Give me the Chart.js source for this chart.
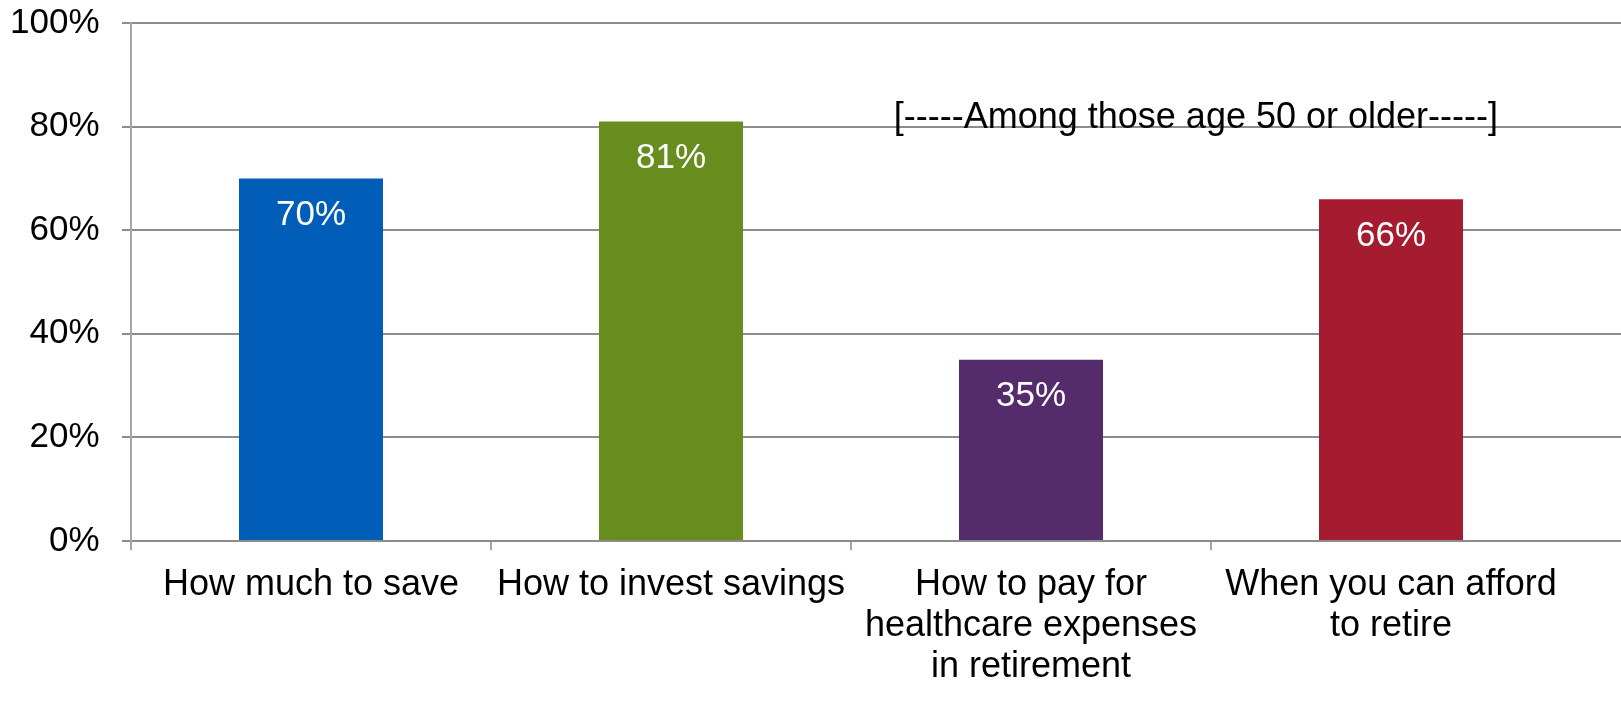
<!DOCTYPE html>
<html>
<head>
<meta charset="utf-8">
<script src="https://cdn.jsdelivr.net/npm/chart.js@4"></script>
<style>
  html, body { margin: 0; padding: 0; background: #fff; }
  #wrap { width: 1621px; height: 704px; }
</style>
</head>
<body>
<div id="wrap"><canvas id="barChartAdvice"></canvas></div>
<script>
var categories = [
    'How much to save',
    'How to invest savings',
    ['How to pay for', 'healthcare expenses', 'in retirement'],
    ['When you can afford', 'to retire']
];
var values = [70, 81, 35, 66];
var barColors = ['#005EB8', '#678D1F', '#542C6C', '#A51C30'];
var yTicks = [0, 20, 40, 60, 80, 100];
var noteText = '[-----Among those age 50 or older-----]';

var FONT = '"Liberation Sans", Arial, sans-serif';

// white value labels inside the top of each bar
var valueLabels = {
    id: 'valueLabels',
    afterDatasetsDraw: function (chart) {
        var ctx = chart.ctx;
        var meta = chart.getDatasetMeta(0);
        ctx.save();
        ctx.fillStyle = '#ffffff';
        ctx.font = '35px ' + FONT;
        ctx.textAlign = 'center';
        ctx.textBaseline = 'middle';
        meta.data.forEach(function (bar, i) {
            ctx.fillText(values[i] + '%', bar.x, bar.y + 37);
        });
        ctx.restore();
    }
};

// the bracket note, placed in data units
var noteLabel = {
    id: 'noteLabel',
    afterDraw: function (chart) {
        var ctx = chart.ctx;
        var x = chart.scales.x.getPixelForValue(2.458);
        var y = chart.scales.y.getPixelForValue(81.7);
        ctx.save();
        ctx.fillStyle = '#000000';
        ctx.font = '36px ' + FONT;
        ctx.textAlign = 'center';
        ctx.textBaseline = 'middle';
        ctx.fillText(noteText, x, y);
        ctx.restore();
    }
};

// gridlines run on past the last category to the edge of the picture
var gridRunOn = {
    id: 'gridRunOn',
    beforeDatasetsDraw: function (chart) {
        var ctx = chart.ctx;
        var area = chart.chartArea;
        ctx.save();
        ctx.strokeStyle = '#8C8C8C';
        ctx.lineWidth = 2;
        chart.scales.y.ticks.forEach(function (t) {
            var y = Math.round(chart.scales.y.getPixelForValue(t.value));
            ctx.beginPath();
            ctx.moveTo(area.right - 1, y);
            ctx.lineTo(chart.width, y);
            ctx.stroke();
        });
        ctx.restore();
    }
};

// no tick mark after the last category (the axis just runs on)
function xTickColor(c) {
    return c.tick ? '#A6A6A6' : 'rgba(0,0,0,0)';
}

var ctx = document.getElementById('barChartAdvice').getContext('2d');
var barChartAdvice = new Chart(ctx, {
    type: 'bar',
    data: {
        labels: categories,
        datasets: [{
            data: values,
            backgroundColor: barColors,
            borderWidth: 0,
            categoryPercentage: 1.0,
            barPercentage: 0.4
        }]
    },
    options: {
        responsive: true,
        maintainAspectRatio: false,
        animation: false,
        layout: { padding: { top: 0, right: 50, bottom: 0, left: 0 } },
        plugins: {
            legend: { display: false },
            tooltip: { enabled: false }
        },
        scales: {
            x: {
                grid: {
                    display: true,
                    drawOnChartArea: false,
                    drawTicks: true,
                    tickLength: 9,
                    color: xTickColor,
                    tickColor: xTickColor,
                    lineWidth: 2,
                    offset: true
                },
                border: { color: '#8C8C8C', width: 2 },
                ticks: {
                    color: '#000000',
                    font: { family: FONT, size: 36, lineHeight: 1.13 },
                    padding: 15,
                    maxRotation: 0,
                    autoSkip: false
                },
                afterFit: function (scale) { scale.height = 163; }
            },
            y: {
                min: 0,
                max: 100,
                afterBuildTicks: function (scale) {
                    scale.ticks = yTicks.map(function (v) { return { value: v }; });
                },
                grid: {
                    color: '#8C8C8C',
                    lineWidth: 2,
                    drawTicks: true,
                    tickLength: 9,
                    tickColor: '#8C8C8C'
                },
                border: { color: '#A6A6A6', width: 2 },
                ticks: {
                    color: '#000000',
                    // tiny line height keeps the top label from pushing the plot down
                    font: { family: FONT, size: 35, lineHeight: 0.03 },
                    padding: 22.5,
                    callback: function (v) { return v + '%'; }
                },
                afterFit: function (scale) { scale.width = 131; }
            }
        }
    },
    plugins: [gridRunOn, valueLabels, noteLabel]
});
</script>
</body>
</html>
